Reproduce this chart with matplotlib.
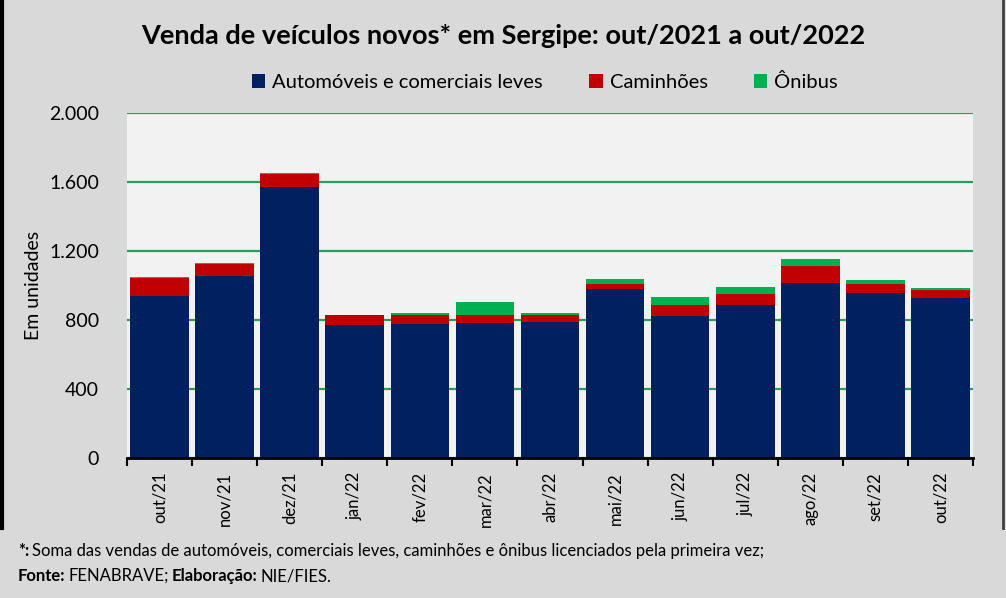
import matplotlib as mpl
import matplotlib.pyplot as plt
import numpy as np
from matplotlib.patches import Patch
from matplotlib.lines import Line2D

# data
months = ['out/21', 'nov/21', 'dez/21', 'jan/22', 'fev/22', 'mar/22', 'abr/22',
          'mai/22', 'jun/22', 'jul/22', 'ago/22', 'set/22', 'out/22']
autos = [940, 1055, 1570, 772, 778, 780, 788, 978, 823, 887, 1016, 958, 927]
caminhoes = [105, 70, 78, 55, 52, 50, 42, 30, 64, 62, 97, 51, 47]
onibus = [5, 5, 3, 3, 10, 77, 10, 30, 46, 42, 41, 23, 12]
series_names = ['Automóveis e comerciais leves', 'Caminhões', 'Ônibus']
yticks = [0, 400, 800, 1200, 1600, 2000]

# General plot parameters
mpl.rcParams['font.family'] = ['Lato', 'DejaVu Sans']
colors = ['#002060', '#C00000', '#00B050']
grid_color = '#2a9d5c'

fig = plt.figure(figsize=(10.06, 5.98), dpi=100)
fig.patch.set_facecolor('#D9D9D9')
ax = fig.add_axes([127/1006, 1 - 458/598, (973 - 127)/1006, (458 - 113)/598])
ax.set_facecolor('#F2F2F2')

x = np.arange(len(months))
auto_arr = np.array(autos)
cam_arr = np.array(caminhoes)
oni_arr = np.array(onibus)
ax.bar(x, auto_arr, width=0.9, color=colors[0], zorder=3)
ax.bar(x, cam_arr, width=0.9, bottom=auto_arr, color=colors[1], zorder=3)
ax.bar(x, oni_arr, width=0.9, bottom=auto_arr + cam_arr, color=colors[2], zorder=3)

# axes
ax.set_xlim(-0.5, len(months) - 0.5)
ax.set_ylim(0, 2000)
ax.set_yticks(yticks)
ax.set_yticklabels([f'{v:,}'.replace(',', '.') for v in yticks], fontsize=14)
ax.tick_params(axis='y', length=0, pad=20)
ax.yaxis.grid(True, color=grid_color, linewidth=1.6, zorder=1)
ax.set_xticks(x)
ax.set_xticklabels(months, rotation=90, fontsize=12)
ax.tick_params(axis='x', which='major', length=0, pad=10)
ax.set_xticks(np.arange(-0.5, len(months), 1), minor=True)
ax.tick_params(axis='x', which='minor', length=6, width=1.5, direction='out')
for s in ['left', 'right', 'top']:
    ax.spines[s].set_visible(False)
ax.spines['bottom'].set_linewidth(2)
ax.spines['bottom'].set_zorder(4)
ax.set_ylabel('Em unidades', fontsize=14)
ax.yaxis.set_label_coords(-0.1, 0.5)

# title and legend
fig.text(503/1006, 1 - 36/598, 'Venda de veículos novos* em Sergipe: out/2021 a out/2022',
         ha='center', va='center', fontsize=19.5, fontweight='bold')
handles = [Patch(facecolor=c, edgecolor='none') for c in colors]
fig.legend(handles, series_names, loc='center', bbox_to_anchor=(545/1006, 1 - 82/598),
           ncol=3, frameon=False, fontsize=14.5, handlelength=0.65, handleheight=0.65,
           handletextpad=0.35, columnspacing=2.3)

# chart border (left and right edges)
fig.add_artist(Line2D([2/1006, 2/1006], [1 - 528/598, 1], color='black', lw=3))
fig.add_artist(Line2D([1003/1006, 1003/1006], [1 - 528/598, 1], color='#404040', lw=2))

# footnote, pieces placed one after another
def text_run(pieces, x0, y0):
    renderer = fig.canvas.get_renderer()
    xpos = x0
    for txt, bold in pieces:
        t = fig.text(xpos / 1006, 1 - y0 / 598, txt, fontsize=12, va='center',
                     fontweight='bold' if bold else 'normal')
        bb = t.get_window_extent(renderer=renderer)
        xpos += bb.width + 3

text_run([('*:', True),
          ('Soma das vendas de automóveis, comerciais leves, caminhões e ônibus licenciados pela primeira vez;', False)],
         18, 551)
text_run([('Fonte:', True), ('FENABRAVE;', False), ('Elaboração:', True), ('NIE/FIES.', False)],
         18, 576)

fig.savefig('out.png', dpi=100, facecolor=fig.get_facecolor())
